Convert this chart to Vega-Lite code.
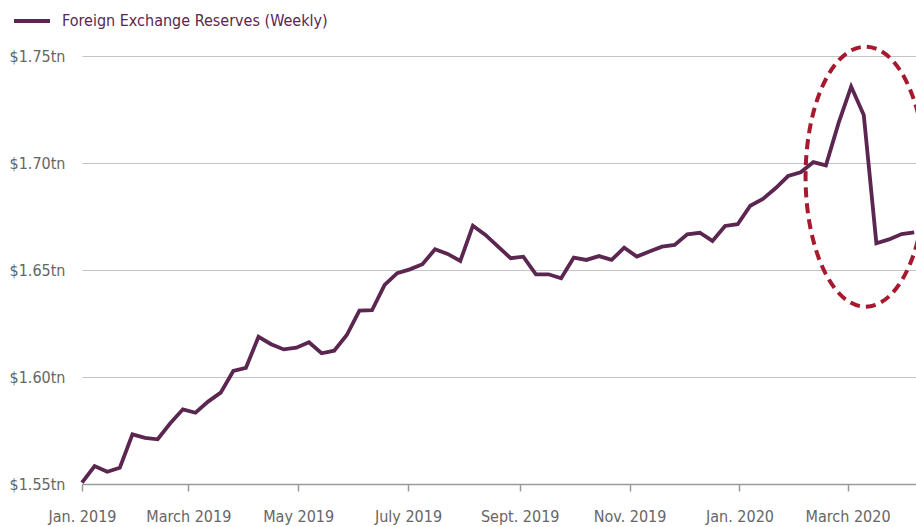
{
  "$schema": "https://vega.github.io/schema/vega-lite/v6.json",
  "width": 834,
  "height": 428,
  "autosize": "none",
  "padding": {"left": 82, "top": 56, "right": 0, "bottom": 43},
  "background": "white",
  "config": {
    "view": {"stroke": null},
    "font": "DejaVu Sans Condensed"
  },
  "layer": [
    {
      "data": {"values": [
        {"date": "2019-01-01", "value": 1.5506},
        {"date": "2019-01-08", "value": 1.5584},
        {"date": "2019-01-15", "value": 1.5557},
        {"date": "2019-01-22", "value": 1.5576},
        {"date": "2019-01-29", "value": 1.5732},
        {"date": "2019-02-05", "value": 1.5716},
        {"date": "2019-02-12", "value": 1.5709},
        {"date": "2019-02-19", "value": 1.5784},
        {"date": "2019-02-26", "value": 1.5849},
        {"date": "2019-03-05", "value": 1.5833},
        {"date": "2019-03-12", "value": 1.5885},
        {"date": "2019-03-19", "value": 1.5927},
        {"date": "2019-03-26", "value": 1.6028},
        {"date": "2019-04-02", "value": 1.6043},
        {"date": "2019-04-09", "value": 1.6188},
        {"date": "2019-04-16", "value": 1.6153},
        {"date": "2019-04-23", "value": 1.6129},
        {"date": "2019-04-30", "value": 1.6137},
        {"date": "2019-05-07", "value": 1.6162},
        {"date": "2019-05-14", "value": 1.6111},
        {"date": "2019-05-21", "value": 1.6123},
        {"date": "2019-05-28", "value": 1.6196},
        {"date": "2019-06-04", "value": 1.6310},
        {"date": "2019-06-11", "value": 1.6312},
        {"date": "2019-06-18", "value": 1.6430},
        {"date": "2019-06-25", "value": 1.6485},
        {"date": "2019-07-02", "value": 1.6503},
        {"date": "2019-07-09", "value": 1.6527},
        {"date": "2019-07-16", "value": 1.6597},
        {"date": "2019-07-23", "value": 1.6575},
        {"date": "2019-07-30", "value": 1.6542},
        {"date": "2019-08-06", "value": 1.6707},
        {"date": "2019-08-13", "value": 1.6664},
        {"date": "2019-08-20", "value": 1.6609},
        {"date": "2019-08-27", "value": 1.6555},
        {"date": "2019-09-03", "value": 1.6562},
        {"date": "2019-09-10", "value": 1.6480},
        {"date": "2019-09-17", "value": 1.6480},
        {"date": "2019-09-24", "value": 1.6461},
        {"date": "2019-10-01", "value": 1.6558},
        {"date": "2019-10-08", "value": 1.6547},
        {"date": "2019-10-15", "value": 1.6565},
        {"date": "2019-10-22", "value": 1.6547},
        {"date": "2019-10-29", "value": 1.6604},
        {"date": "2019-11-05", "value": 1.6563},
        {"date": "2019-11-12", "value": 1.6586},
        {"date": "2019-11-19", "value": 1.6609},
        {"date": "2019-11-26", "value": 1.6617},
        {"date": "2019-12-03", "value": 1.6667},
        {"date": "2019-12-10", "value": 1.6674},
        {"date": "2019-12-17", "value": 1.6636},
        {"date": "2019-12-24", "value": 1.6706},
        {"date": "2019-12-31", "value": 1.6714},
        {"date": "2020-01-07", "value": 1.6800},
        {"date": "2020-01-14", "value": 1.6832},
        {"date": "2020-01-21", "value": 1.6882},
        {"date": "2020-01-28", "value": 1.6939},
        {"date": "2020-02-04", "value": 1.6957},
        {"date": "2020-02-11", "value": 1.7004},
        {"date": "2020-02-18", "value": 1.6989},
        {"date": "2020-02-25", "value": 1.7186},
        {"date": "2020-03-03", "value": 1.7357},
        {"date": "2020-03-10", "value": 1.7224},
        {"date": "2020-03-17", "value": 1.6625},
        {"date": "2020-03-24", "value": 1.6643},
        {"date": "2020-03-31", "value": 1.6668},
        {"date": "2020-04-07", "value": 1.6676}
      ]},
      "mark": {"type": "line", "strokeWidth": 3.8, "strokeJoin": "miter"},
      "encoding": {
        "x": {
          "field": "date",
          "type": "temporal",
          "scale": {"type": "utc", "domain": [
            {"year": 2019, "month": 1, "date": 1, "utc": true},
            {"year": 2020, "month": 4, "date": 8, "utc": true}
          ]},
          "axis": {
            "title": null,
            "grid": false,
            "values": [
              {"year": 2019, "month": 1, "date": 1, "utc": true},
              {"year": 2019, "month": 3, "date": 1, "utc": true},
              {"year": 2019, "month": 5, "date": 1, "utc": true},
              {"year": 2019, "month": 7, "date": 1, "utc": true},
              {"year": 2019, "month": 9, "date": 1, "utc": true},
              {"year": 2019, "month": 11, "date": 1, "utc": true},
              {"year": 2020, "month": 1, "date": 1, "utc": true},
              {"year": 2020, "month": 3, "date": 1, "utc": true}
            ],
            "labelExpr": "['Jan.','Feb.','March','April','May','June','July','Aug.','Sept.','Oct.','Nov.','Dec.'][utcmonth(datum.value)] + ' ' + utcyear(datum.value)",
            "domainColor": "#9a9a9a",
            "domainWidth": 1.5,
            "tickColor": "#9a9a9a",
            "tickWidth": 1.5,
            "tickSize": 7,
            "labelPadding": 17,
            "labelFontSize": 16,
            "labelColor": "#666666",
            "labelFlush": false,
            "labelOverlap": false
          }
        },
        "y": {
          "field": "value",
          "type": "quantitative",
          "scale": {"domain": [1.55, 1.75], "zero": false, "nice": false},
          "axis": {
            "title": null,
            "values": [1.55, 1.6, 1.65, 1.7, 1.75],
            "labelExpr": "'$' + format(datum.value, '.2f') + 'tn'",
            "domain": false,
            "ticks": false,
            "grid": true,
            "gridColor": "#c4c4c4",
            "gridWidth": 1.2,
            "labelAlign": "right",
            "labelPadding": 17,
            "labelFontSize": 16,
            "labelColor": "#666666"
          }
        },
        "color": {
          "datum": "Foreign Exchange Reserves (Weekly)",
          "type": "nominal",
          "scale": {"range": ["#5b2650"]},
          "legend": {
            "title": null,
            "orient": "none",
            "legendX": -70,
            "legendY": -55,
            "padding": 0,
            "symbolType": "stroke",
            "symbolSize": 1296,
            "symbolStrokeWidth": 4,
            "labelFontSize": 16,
            "labelLimit": 0,
            "labelColor": "#5b2650",
            "labelOffset": 10
          }
        }
      }
    },
    {
      "data": {"values": [{"date": "2020-03-11", "value": 1.6936}]},
      "mark": {
        "type": "point",
        "shape": "M0.4615,0C0.4615,0.5523,0.2549,1,0,1C-0.2549,1,-0.4615,0.5523,-0.4615,0C-0.4615,-0.5523,-0.2549,-1,0,-1C0.2549,-1,0.4615,-0.5523,0.4615,0Z",
        "size": 67600,
        "filled": false,
        "stroke": "#a6192e",
        "strokeWidth": 4,
        "strokeDash": [10, 6],
        "opacity": 1
      },
      "encoding": {
        "x": {"field": "date", "type": "temporal"},
        "y": {"field": "value", "type": "quantitative"}
      }
    }
  ]
}
